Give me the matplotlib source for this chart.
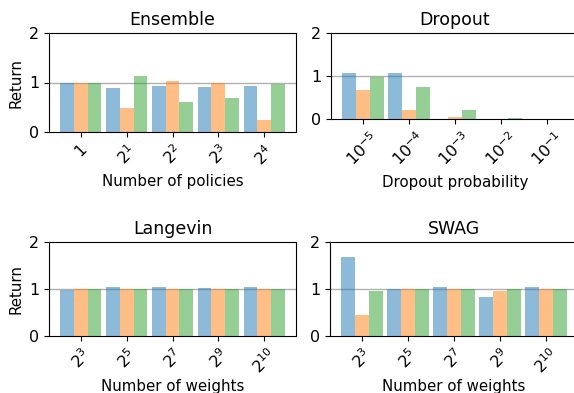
import numpy as np
import matplotlib
matplotlib.use("Agg")
import matplotlib.pyplot as plt

# values (3 runs per setting)
ensemble_labels = ["1", "$2^{1}$", "$2^{2}$", "$2^{3}$", "$2^{4}$"]
ensemble_a = [1.00, 0.885, 0.93, 0.905, 0.93]
ensemble_b = [1.00, 0.49, 1.03, 0.99, 0.24]
ensemble_c = [1.00, 1.13, 0.60, 0.69, 0.97]

dropout_labels = ["$10^{-5}$", "$10^{-4}$", "$10^{-3}$", "$10^{-2}$", "$10^{-1}$"]
dropout_a = [1.07, 1.07, 0.0, 0.0, 0.0]
dropout_b = [0.68, 0.22, 0.045, 0.0, 0.0]
dropout_c = [0.98, 0.75, 0.22, 0.012, 0.0]

weight_labels = ["$2^{3}$", "$2^{5}$", "$2^{7}$", "$2^{9}$", "$2^{10}$"]
langevin_a = [0.97, 1.05, 1.05, 1.03, 1.05]
langevin_b = [1.00, 1.00, 1.00, 1.00, 1.00]
langevin_c = [1.00, 1.00, 1.00, 1.00, 1.00]

swag_a = [1.69, 1.00, 1.05, 0.84, 1.05]
swag_b = [0.45, 1.00, 1.00, 0.96, 1.00]
swag_c = [0.96, 1.00, 1.00, 1.00, 1.00]

colors = ["tab:blue", "tab:orange", "tab:green"]
W, H = 574, 393


def px_axes(fig, left, right, top, bottom):
    return fig.add_axes([left / W, (H - bottom) / H, (right - left) / W, (bottom - top) / H])


def bar_panel(ax, title, labels, series, xlabel, ylabel=None, labelpad=4):
    x = np.arange(len(labels))
    width = 0.3
    for i, vals in enumerate(series):
        ax.bar(x + (i - 1) * width, vals, width=width, color=colors[i], alpha=0.5, zorder=2)
    ax.axhline(1, color="#b0b0b0", lw=1, zorder=1)
    ax.set_ylim(0, 2)
    ax.set_yticks([0, 1, 2])
    ax.set_xticks(x)
    ax.set_xticklabels(labels, rotation=45)
    ax.tick_params(labelsize=11.5)
    ax.set_title(title, fontsize=12.5)
    ax.set_xlabel(xlabel, fontsize=10.8, labelpad=labelpad)
    if ylabel:
        ax.set_ylabel(ylabel, fontsize=10.8)


fig = plt.figure(figsize=(W / 100, H / 100), dpi=100)

ax1 = px_axes(fig, 49, 296, 33, 132)
ax2 = px_axes(fig, 331, 579, 33, 119)
ax3 = px_axes(fig, 49, 296, 242, 336)
ax4 = px_axes(fig, 330, 578, 242, 336)

bar_panel(ax1, "Ensemble", ensemble_labels, [ensemble_a, ensemble_b, ensemble_c],
          "Number of policies", "Return")
bar_panel(ax2, "Dropout", dropout_labels, [dropout_a, dropout_b, dropout_c],
          "Dropout probability")
bar_panel(ax3, "Langevin", weight_labels, [langevin_a, langevin_b, langevin_c],
          "Number of weights", "Return", labelpad=1.5)
bar_panel(ax4, "SWAG", weight_labels, [swag_a, swag_b, swag_c],
          "Number of weights", labelpad=1.5)

fig.savefig("out.png", dpi=100)
